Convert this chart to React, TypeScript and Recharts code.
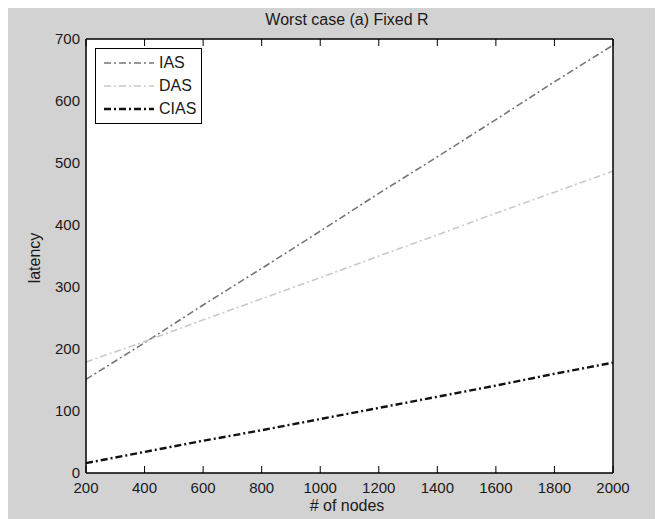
import { LineChart, Line, XAxis, YAxis, CartesianGrid } from "recharts";

const nodes = [200, 400, 600, 800, 1000, 1200, 1400, 1600, 1800, 2000];
const iasLatency = [151, 210, 271, 330, 390, 451, 510, 570, 631, 690];
const dasLatency = [179, 212, 247, 281, 315, 350, 384, 419, 453, 487];
const ciasLatency = [16, 34, 52, 69, 87, 105, 123, 141, 160, 178];

const xTicks = [200, 400, 600, 800, 1000, 1200, 1400, 1600, 1800, 2000];
const yTicks = [0, 100, 200, 300, 400, 500, 600, 700];

const series = [
  { key: "IAS", color: "#767676", width: 1.6, dash: "7 3 2 3" },
  { key: "DAS", color: "#c9c9c9", width: 1.6, dash: "7 3 2 3" },
  { key: "CIAS", color: "#111111", width: 2.4, dash: "7 3 2 3" },
];

const chartData = nodes.map((n, i) => ({
  nodes: n,
  IAS: iasLatency[i],
  DAS: dasLatency[i],
  CIAS: ciasLatency[i],
}));

const font = '"Liberation Sans", Arial, sans-serif';
const tickStyle = { fill: "#1a1a1a", fontSize: 15, fontFamily: font };
const noLabel = () => "";

const LegendBox = () => (
  <div
    style={{
      position: "absolute",
      left: 87,
      top: 40,
      width: 105,
      height: 74,
      border: "1px solid #000",
      background: "#fff",
      fontFamily: font,
      fontSize: 16,
      color: "#1a1a1a",
    }}
  >
    {series.map((s, i) => (
      <div
        key={s.key}
        style={{ position: "absolute", left: 8, top: 4 + i * 23, height: 20, display: "flex", alignItems: "center" }}
      >
        <svg width={50} height={20}>
          <line x1={0} y1={10} x2={50} y2={10} stroke={s.color} strokeWidth={s.width} strokeDasharray={s.dash} />
        </svg>
        <span style={{ marginLeft: 5, lineHeight: "20px" }}>{s.key}</span>
      </div>
    ))}
  </div>
);

const App = () => {
  return (
    <div style={{ position: "relative", width: 655, height: 511, background: "#d2d2d2" }}>
      <LineChart width={655} height={511} data={chartData} margin={{ top: 31, right: 50, bottom: 16, left: 28 }}>
        <CartesianGrid fill="#ffffff" horizontal={false} vertical={false} />
        <XAxis
          dataKey="nodes"
          type="number"
          domain={[200, 2000]}
          ticks={xTicks}
          height={30}
          tick={tickStyle}
          tickLine={false}
          tickSize={0}
          tickMargin={9}
          axisLine={{ stroke: "#000", strokeWidth: 1.5 }}
        />
        <XAxis
          xAxisId="bottomTicks"
          dataKey="nodes"
          type="number"
          domain={[200, 2000]}
          ticks={xTicks}
          orientation="bottom"
          mirror
          tickFormatter={noLabel}
          tickSize={7}
          tickLine={{ stroke: "#000" }}
          axisLine={false}
        />
        <XAxis
          xAxisId="top"
          dataKey="nodes"
          type="number"
          domain={[200, 2000]}
          ticks={xTicks}
          orientation="top"
          mirror
          tickFormatter={noLabel}
          tickSize={7}
          tickLine={{ stroke: "#000" }}
          axisLine={{ stroke: "#000", strokeWidth: 1.5 }}
        />
        <YAxis
          type="number"
          domain={[0, 700]}
          ticks={yTicks}
          width={50}
          tick={tickStyle}
          tickLine={false}
          tickSize={0}
          tickMargin={6}
          axisLine={{ stroke: "#000", strokeWidth: 1.5 }}
        />
        <YAxis
          yAxisId="leftTicks"
          type="number"
          domain={[0, 700]}
          ticks={yTicks}
          orientation="left"
          mirror
          tickFormatter={noLabel}
          tickSize={7}
          tickLine={{ stroke: "#000" }}
          axisLine={false}
        />
        <YAxis
          yAxisId="right"
          type="number"
          domain={[0, 700]}
          ticks={yTicks}
          orientation="right"
          mirror
          tickFormatter={noLabel}
          tickSize={7}
          tickLine={{ stroke: "#000" }}
          axisLine={{ stroke: "#000", strokeWidth: 1.5 }}
        />
        {series.map((s) => (
          <Line
            key={s.key}
            type="linear"
            dataKey={s.key}
            stroke={s.color}
            strokeWidth={s.width}
            strokeDasharray={s.dash}
            dot={false}
            activeDot={false}
            isAnimationActive={false}
          />
        ))}
      </LineChart>
      <LegendBox />
      <div
        style={{
          position: "absolute",
          left: 339,
          top: 4,
          transform: "translateX(-50%)",
          fontFamily: font,
          fontSize: 16,
          lineHeight: "16px",
          color: "#1a1a1a",
          whiteSpace: "nowrap",
        }}
      >
        Worst case (a) Fixed R
      </div>
      <div
        style={{
          position: "absolute",
          left: 339,
          top: 490,
          transform: "translateX(-50%)",
          fontFamily: font,
          fontSize: 16,
          lineHeight: "16px",
          color: "#1a1a1a",
          whiteSpace: "nowrap",
        }}
      >
        # of nodes
      </div>
      <div
        style={{
          position: "absolute",
          left: 27,
          top: 250,
          transform: "translate(-50%, -50%) rotate(-90deg)",
          fontFamily: font,
          fontSize: 16,
          lineHeight: "16px",
          color: "#1a1a1a",
          whiteSpace: "nowrap",
        }}
      >
        latency
      </div>
    </div>
  );
};

export default App;
